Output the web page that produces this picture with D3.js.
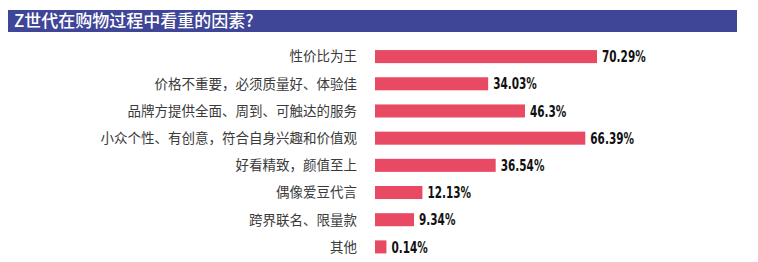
<!DOCTYPE html>
<html>
<head>
<meta charset="utf-8">
<script src="https://cdn.jsdelivr.net/npm/d3@7"></script>
<style>
  body { margin: 0; background: #fff; }
  svg { display: block; }
</style>
</head>
<body>
<svg width="758" height="262"></svg>
<script>
// data
var title = "Z世代在购物过程中看重的因素?";
var categories = [
  "性价比为王",
  "价格不重要，必须质量好、体验佳",
  "品牌方提供全面、周到、可触达的服务",
  "小众个性、有创意，符合自身兴趣和价值观",
  "好看精致，颜值至上",
  "偶像爱豆代言",
  "跨界联名、限量款",
  "其他"
];
var values = [70.29, 34.03, 46.3, 66.39, 36.54, 12.13, 9.34, 0.14];
var valueLabels = ["70.29%", "34.03%", "46.3%", "66.39%", "36.54%", "12.13%", "9.34%", "0.14%"];

var svg = d3.select("svg"),
  width = +svg.attr("width"),
  height = +svg.attr("height");

// title banner
svg.append("rect")
  .attr("x", 8).attr("y", 10)
  .attr("width", 729).attr("height", 22)
  .attr("fill", "#3f4597");
svg.append("text")
  .attr("x", 14).attr("y", 27)
  .attr("fill", "#fff")
  .attr("font-family", "'Noto Sans CJK SC', sans-serif")
  .attr("font-size", 17)
  .attr("font-weight", 500)
  .text(title);

var barStart = 375;

// bars start with a small stub so tiny values stay visible
var x = d3.scaleLinear()
  .domain([0, 70.29])
  .range([barStart + 11, 597]);

var y = d3.scaleBand()
  .domain(categories)
  .range([43, 260.5])
  .paddingInner(0.52)
  .paddingOuter(0.26);

var rows = svg.append("g")
  .selectAll("g")
  .data(categories)
  .join("g");

rows.append("text")
  .attr("x", 357)
  .attr("y", d => y(d) + y.bandwidth() / 2)
  .attr("dy", "0.36em")
  .attr("text-anchor", "end")
  .attr("fill", "#3a3a3a")
  .attr("font-family", "'Noto Sans CJK SC', sans-serif")
  .attr("font-size", 13.5)
  .text(d => d);

rows.append("rect")
  .attr("x", barStart)
  .attr("y", d => y(d))
  .attr("width", (d, i) => x(values[i]) - barStart)
  .attr("height", y.bandwidth())
  .attr("fill", "#e84a63");

// condensed heavy numbers: squeeze a bold face horizontally
rows.append("text")
  .attr("transform", (d, i) => "translate(" + (x(values[i]) + 5) + "," + (y(d) + y.bandwidth() / 2) + ") scale(0.7,1)")
  .attr("dy", "0.38em")
  .attr("fill", "#111")
  .attr("font-family", "'DejaVu Sans', sans-serif")
  .attr("font-weight", "bold")
  .attr("font-size", 15)
  .text((d, i) => valueLabels[i]);
</script>
</body>
</html>
